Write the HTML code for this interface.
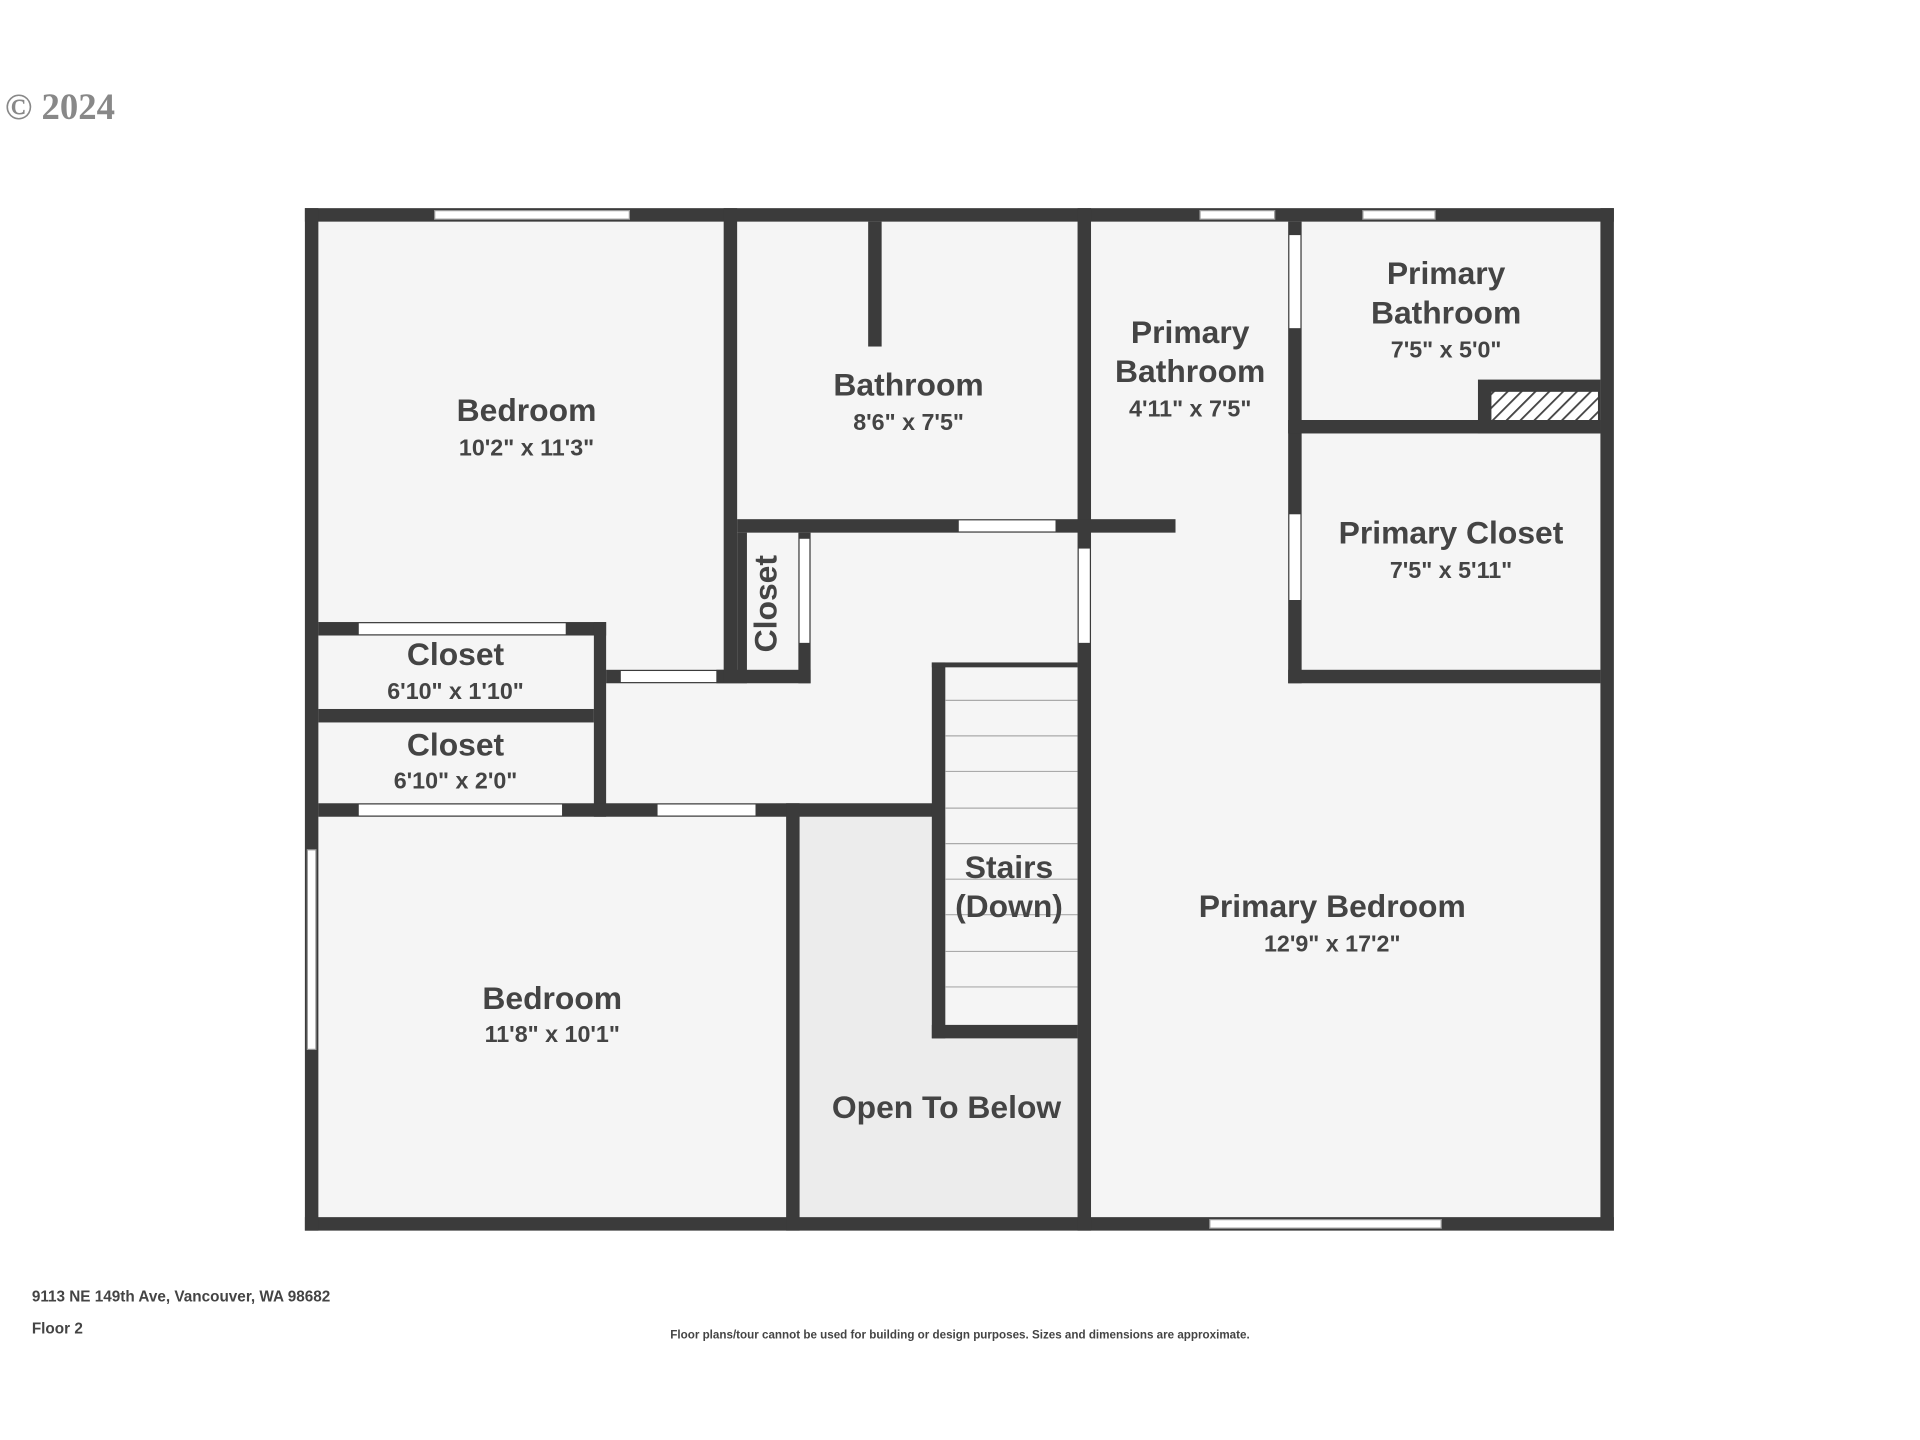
<!DOCTYPE html>
<html><head><meta charset="utf-8"><style>
html,body{margin:0;padding:0;background:#fff;}
svg{display:block;}
.n{font-family:"Liberation Sans",sans-serif;font-weight:bold;fill:#444;font-size:26px;text-anchor:middle;}
.d{font-family:"Liberation Sans",sans-serif;font-weight:bold;fill:#444;font-size:19px;text-anchor:middle;}
</style></head><body>
<svg width="1920" height="1440" viewBox="0 0 1568 1176" xmlns="http://www.w3.org/2000/svg">
<defs><pattern id="h" width="8" height="8" patternUnits="userSpaceOnUse" patternTransform="rotate(45)"><rect width="8" height="8" fill="#fff"/><rect width="1.5" height="8" fill="#444"/></pattern></defs>
<text x="4" y="97" font-family="Liberation Serif,serif" font-size="30" font-weight="bold" fill="#888">© 2024</text>
<rect x="249" y="170" width="1069" height="835" fill="#f5f5f5"/>
<rect x="653" y="667" width="227" height="327" fill="#ececec"/>
<rect x="772" y="545" width="108" height="292" fill="#f5f5f5"/>
<g fill="#3b3b3b">
<rect x="249" y="170" width="1069" height="11"/>
<rect x="249" y="994" width="1069" height="11"/>
<rect x="249" y="170" width="11" height="835"/>
<rect x="1307" y="170" width="11" height="835"/>
<rect x="591" y="170" width="11" height="388"/>
<rect x="709" y="181" width="11" height="102"/>
<rect x="880" y="170" width="11" height="835"/>
<rect x="602" y="424" width="358" height="11"/>
<rect x="602" y="435" width="8" height="123"/>
<rect x="652" y="435" width="10" height="123"/>
<rect x="585" y="547" width="77" height="11"/>
<rect x="1052" y="181" width="11" height="377"/>
<rect x="1052" y="343" width="255" height="11"/>
<rect x="1052" y="547" width="255" height="11"/>
<rect x="1207" y="310" width="100" height="44"/>
<rect x="260" y="508" width="235" height="11"/>
<rect x="485" y="508" width="10" height="159"/>
<rect x="260" y="579" width="225" height="11"/>
<rect x="260" y="656" width="502" height="11"/>
<rect x="495" y="547" width="96" height="11"/>
<rect x="642" y="656" width="11" height="349"/>
<rect x="761" y="541" width="11" height="307"/>
<rect x="761" y="837" width="119" height="11"/>
<rect x="761" y="541" width="119" height="4"/>
</g>
<rect x="1218" y="320" width="87" height="23" fill="url(#h)"/>
<g fill="#fff" stroke="#999" stroke-width="1">
<rect x="355" y="172" width="159" height="7"/>
<rect x="980" y="172" width="61" height="7"/>
<rect x="1113" y="172" width="59" height="7"/>
<rect x="988" y="996" width="189" height="7"/>
<rect x="251" y="694" width="7" height="163"/>
</g>
<g fill="#fff">
<rect x="783" y="425" width="79" height="9"/>
<rect x="881" y="448" width="9" height="77"/>
<rect x="653" y="440" width="8" height="85"/>
<rect x="1053" y="192" width="9" height="76"/>
<rect x="1053" y="420" width="9" height="70"/>
<rect x="293" y="509" width="169" height="9"/>
<rect x="507" y="548" width="78" height="9"/>
<rect x="293" y="657" width="166" height="9"/>
<rect x="537" y="657" width="80" height="9"/>
</g>
<g stroke="#aaa" stroke-width="1">
<line x1="772" y1="572" x2="880" y2="572"/><line x1="772" y1="601" x2="880" y2="601"/>
<line x1="772" y1="630" x2="880" y2="630"/><line x1="772" y1="660" x2="880" y2="660"/>
<line x1="772" y1="689" x2="880" y2="689"/><line x1="772" y1="718" x2="880" y2="718"/>
<line x1="772" y1="747" x2="880" y2="747"/><line x1="772" y1="777" x2="880" y2="777"/>
<line x1="772" y1="806" x2="880" y2="806"/>
</g>
<text class="n" x="430" y="344">Bedroom</text><text class="d" x="430" y="372">10'2" x 11'3"</text>
<text class="n" x="742" y="323">Bathroom</text><text class="d" x="742" y="351">8'6" x 7'5"</text>
<text class="n" x="972" y="280">Primary</text><text class="n" x="972" y="312">Bathroom</text><text class="d" x="972" y="340">4'11" x 7'5"</text>
<text class="n" x="1181" y="232">Primary</text><text class="n" x="1181" y="264">Bathroom</text><text class="d" x="1181" y="292">7'5" x 5'0"</text>
<text class="n" x="1185" y="444">Primary Closet</text><text class="d" x="1185" y="472">7'5" x 5'11"</text>
<text class="n" x="372" y="543">Closet</text><text class="d" x="372" y="571">6'10" x 1'10"</text>
<text class="n" x="372" y="617">Closet</text><text class="d" x="372" y="644">6'10" x 2'0"</text>
<text class="n" transform="translate(634,493) rotate(-90)" x="0" y="0">Closet</text>
<text class="n" x="824" y="717">Stairs</text><text class="n" x="824" y="749">(Down)</text>
<text class="n" x="1088" y="749">Primary Bedroom</text><text class="d" x="1088" y="777">12'9" x 17'2"</text>
<text class="n" x="451" y="824">Bedroom</text><text class="d" x="451" y="851">11'8" x 10'1"</text>
<text class="n" x="773" y="913">Open To Below</text>
<text x="26" y="1063" font-family="Liberation Sans,sans-serif" font-weight="bold" font-size="12.5" fill="#444">9113 NE 149th Ave, Vancouver, WA 98682</text>
<text x="26" y="1089" font-family="Liberation Sans,sans-serif" font-weight="bold" font-size="12.5" fill="#444">Floor 2</text>
<text x="784" y="1093" text-anchor="middle" font-family="Liberation Sans,sans-serif" font-weight="bold" font-size="9.5" fill="#444">Floor plans/tour cannot be used for building or design purposes. Sizes and dimensions are approximate.</text>
</svg>
</body></html>
